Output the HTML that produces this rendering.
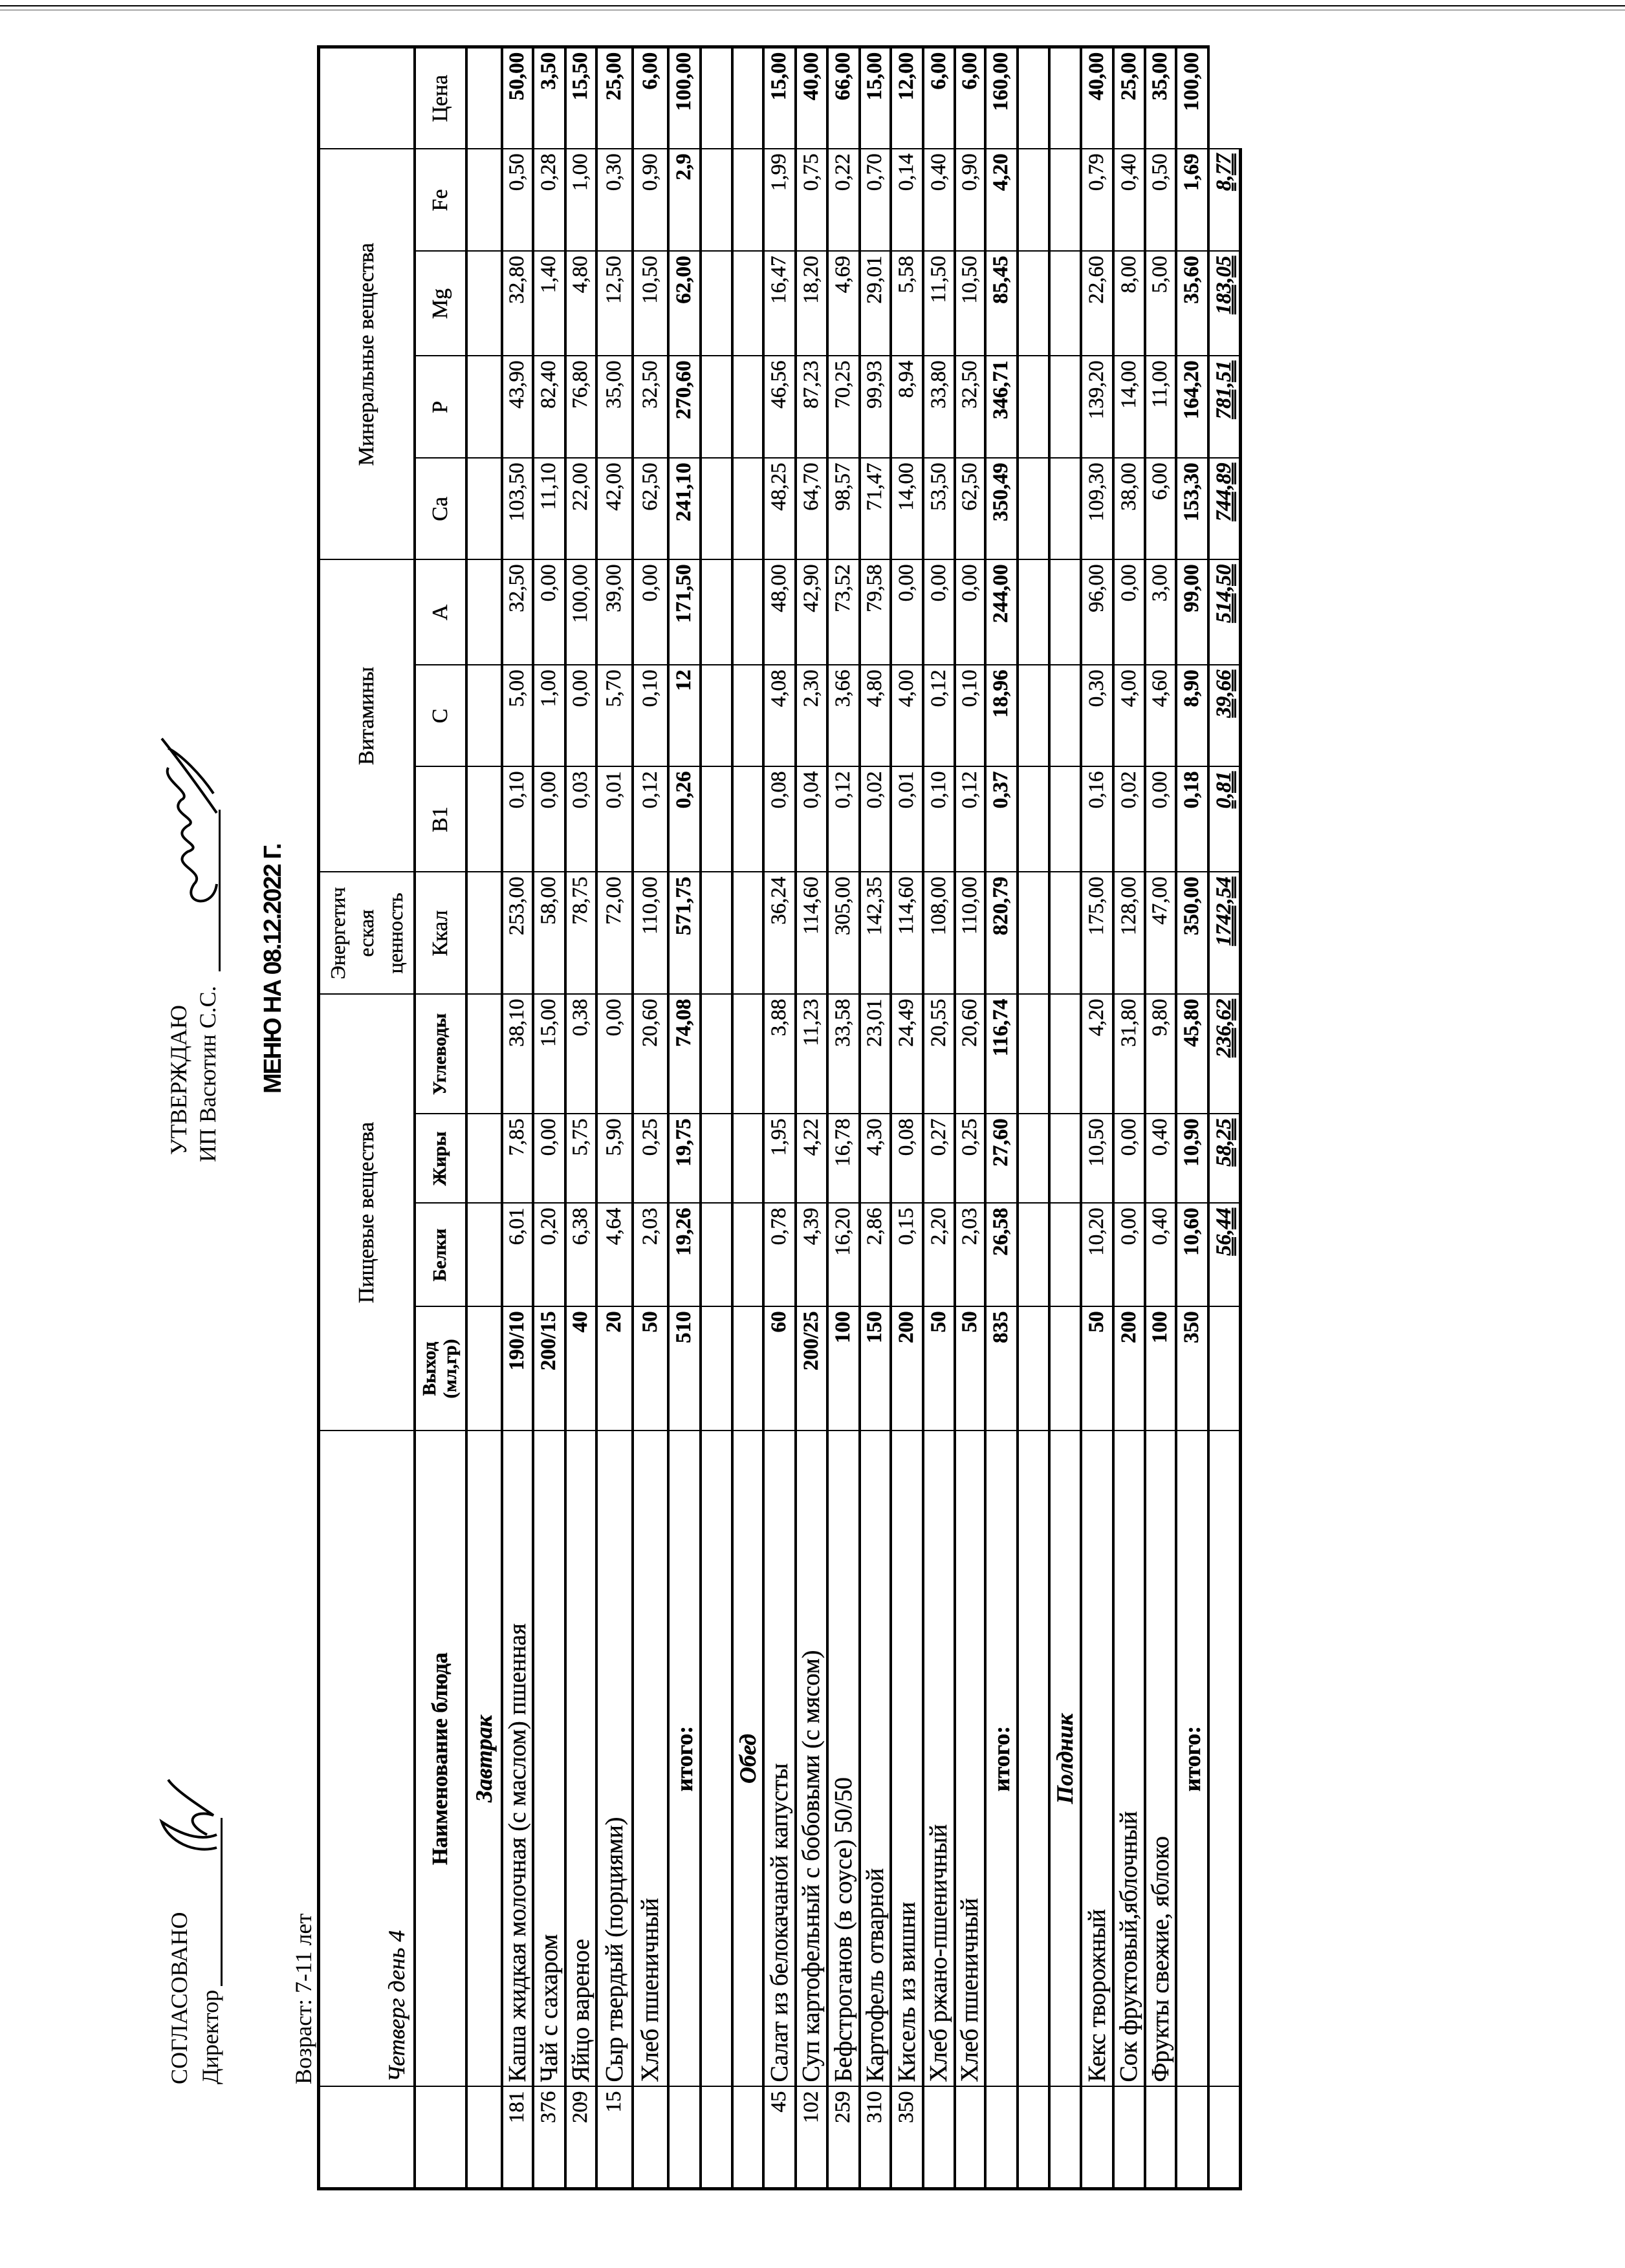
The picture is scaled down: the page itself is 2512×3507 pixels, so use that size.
<!DOCTYPE html>
<html><head><meta charset="utf-8">
<style>
html,body{margin:0;padding:0;background:#fff;}
body{width:2512px;height:3507px;position:relative;overflow:hidden;}
#land{position:absolute;left:0;top:0;width:3507px;height:2512px;transform-origin:0 0;transform:rotate(-90deg) translate(-3507px,0);font-family:"Liberation Serif",serif;color:#000;}
.t{position:absolute;white-space:nowrap;line-height:1;}
table{position:absolute;left:120px;top:490px;width:3312px;border-collapse:collapse;table-layout:fixed;border:5px solid #000;}
td{border-left:2px solid #000;border-right:2px solid #000;border-top:4px solid #000;border-bottom:4px solid #000;padding:0 6px;font-size:33px;line-height:1;text-align:right;vertical-align:middle;white-space:nowrap;overflow:hidden;-webkit-text-stroke:0.4px #000;}
td.n{text-align:left;font-size:38px;}
td.h{text-align:center;font-size:34px;}
td.c{text-align:center;}
.b{font-weight:bold;}
.sec{font-style:italic;font-weight:bold;text-align:center!important;font-size:36px;}
.tot td{font-weight:bold;}
.fin td{font-weight:bold;font-style:italic;text-decoration:underline double;}
</style></head><body>
<div style="position:absolute;left:0;top:8px;width:2512px;height:2px;background:#000;"></div>
<div style="position:absolute;left:0;top:15px;width:2512px;height:1px;background:#555;"></div>
<div id="land">
<div class="t" style="left:284px;top:259px;font-size:36px;">СОГЛАСОВАНО</div>
<div class="t" style="left:284px;top:307px;font-size:36px;">Директор</div>
<div style="position:absolute;left:436px;top:341px;width:260px;height:3px;background:#000;"></div>
<svg style="position:absolute;left:630px;top:240px;" width="140" height="110" viewBox="0 0 140 110"><path d="M20 95 C10 60 30 20 60 10 C40 40 30 70 40 95 M40 80 C60 40 80 60 70 90 C90 60 110 30 125 20" fill="none" stroke="#000" stroke-width="4"/></svg>
<div class="t" style="left:284px;top:451px;font-size:36px;">Возраст: 7-11 лет</div>
<div class="t" style="left:1721px;top:258px;font-size:36px;">УТВЕРЖДАЮ</div>
<div class="t" style="left:1710px;top:303px;font-size:36px;">ИП Васютин С.С.</div>
<div style="position:absolute;left:2005px;top:338px;width:250px;height:3px;background:#000;"></div>
<svg style="position:absolute;left:2100px;top:240px;" width="270" height="110" viewBox="0 0 270 110"><path d="M40 95 C0 90 10 40 40 60 C60 80 70 20 90 50 C100 80 110 20 130 50 C140 70 150 20 170 40 C180 60 200 10 220 20 M150 95 C200 60 240 30 265 10 M180 90 C210 70 240 40 250 20" fill="none" stroke="#000" stroke-width="4"/></svg>
<div class="t" style="left:1816px;top:403px;font-size:38px;font-weight:bold;font-family:'Liberation Sans',sans-serif;letter-spacing:-2px;">МЕНЮ НА 08.12.2022 Г.</div>

<table>
<colgroup>
<col style="width:158px"><col style="width:1014px"><col style="width:192px"><col style="width:160px"><col style="width:138px"><col style="width:185px"><col style="width:189px"><col style="width:163px"><col style="width:157px"><col style="width:163px"><col style="width:157px"><col style="width:158px"><col style="width:162px"><col style="width:158px"><col style="width:158px">
</colgroup>
<tr style="height:148px">
<td></td>
<td class="n" style="vertical-align:bottom;padding-bottom:8px;font-style:italic;font-size:36px;">Четверг день 4</td>
<td class="h" colspan="4">Пищевые вещества</td>
<td class="h" style="font-size:32px;line-height:1.4;white-space:normal;">Энергетич<br>еская<br>ценность</td>
<td class="h" colspan="3">Витамины</td>
<td class="h" colspan="4">Минеральные вещества</td>
<td></td>
</tr>
<tr style="height:80px">
<td></td>
<td class="h b">Наименование блюда</td>
<td class="h b" style="font-size:29px;line-height:1.1;">Выход<br>(мл,гр)</td>
<td class="h b" style="font-size:29px;">Белки</td>
<td class="h b" style="font-size:29px;">Жиры</td>
<td class="h b" style="font-size:29px;">Углеводы</td>
<td class="h">Ккал</td>
<td class="h">B1</td>
<td class="h">C</td>
<td class="h">A</td>
<td class="h">Ca</td>
<td class="h">P</td>
<td class="h">Mg</td>
<td class="h">Fe</td>
<td class="h">Цена</td>
</tr>
<tr style="height:55px"><td></td><td class="sec">Завтрак</td><td></td><td></td><td></td><td></td><td></td><td></td><td></td><td></td><td></td><td></td><td></td><td></td><td></td></tr>
<tr style="height:48px"><td>181</td><td class="n">Каша жидкая молочная (с маслом) пшенная</td><td class="b">190/10</td><td>6,01</td><td>7,85</td><td>38,10</td><td>253,00</td><td>0,10</td><td>5,00</td><td>32,50</td><td>103,50</td><td>43,90</td><td>32,80</td><td>0,50</td><td class="b">50,00</td></tr>
<tr style="height:50px"><td>376</td><td class="n">Чай с сахаром</td><td class="b">200/15</td><td>0,20</td><td>0,00</td><td>15,00</td><td>58,00</td><td>0,00</td><td>1,00</td><td>0,00</td><td>11,10</td><td>82,40</td><td>1,40</td><td>0,28</td><td class="b">3,50</td></tr>
<tr style="height:48px"><td>209</td><td class="n">Яйцо вареное</td><td class="b">40</td><td>6,38</td><td>5,75</td><td>0,38</td><td>78,75</td><td>0,03</td><td>0,00</td><td>100,00</td><td>22,00</td><td>76,80</td><td>4,80</td><td>1,00</td><td class="b">15,50</td></tr>
<tr style="height:56px"><td>15</td><td class="n">Сыр твердый (порциями)</td><td class="b">20</td><td>4,64</td><td>5,90</td><td>0,00</td><td>72,00</td><td>0,01</td><td>5,70</td><td>39,00</td><td>42,00</td><td>35,00</td><td>12,50</td><td>0,30</td><td class="b">25,00</td></tr>
<tr style="height:55px"><td></td><td class="n">Хлеб пшеничный</td><td class="b">50</td><td>2,03</td><td>0,25</td><td>20,60</td><td>110,00</td><td>0,12</td><td>0,10</td><td>0,00</td><td>62,50</td><td>32,50</td><td>10,50</td><td>0,90</td><td class="b">6,00</td></tr>
<tr class="tot" style="height:50px"><td></td><td class="c" style="font-size:36px;">итого:</td><td>510</td><td>19,26</td><td>19,75</td><td>74,08</td><td>571,75</td><td>0,26</td><td>12</td><td>171,50</td><td>241,10</td><td>270,60</td><td>62,00</td><td>2,9</td><td>100,00</td></tr>
<tr style="height:49px"><td></td><td></td><td></td><td></td><td></td><td></td><td></td><td></td><td></td><td></td><td></td><td></td><td></td><td></td><td></td></tr>
<tr style="height:48px"><td></td><td class="sec">Обед</td><td></td><td></td><td></td><td></td><td></td><td></td><td></td><td></td><td></td><td></td><td></td><td></td><td></td></tr>
<tr style="height:50px"><td>45</td><td class="n">Салат из белокачаной капусты</td><td class="b">60</td><td>0,78</td><td>1,95</td><td>3,88</td><td>36,24</td><td>0,08</td><td>4,08</td><td>48,00</td><td>48,25</td><td>46,56</td><td>16,47</td><td>1,99</td><td class="b">15,00</td></tr>
<tr style="height:49px"><td>102</td><td class="n">Суп картофельный с бобовыми (с мясом)</td><td class="b">200/25</td><td>4,39</td><td>4,22</td><td>11,23</td><td>114,60</td><td>0,04</td><td>2,30</td><td>42,90</td><td>64,70</td><td>87,23</td><td>18,20</td><td>0,75</td><td class="b">40,00</td></tr>
<tr style="height:50px"><td>259</td><td class="n">Бефстроганов (в соусе) 50/50</td><td class="b">100</td><td>16,20</td><td>16,78</td><td>33,58</td><td>305,00</td><td>0,12</td><td>3,66</td><td>73,52</td><td>98,57</td><td>70,25</td><td>4,69</td><td>0,22</td><td class="b">66,00</td></tr>
<tr style="height:48px"><td>310</td><td class="n">Картофель отварной</td><td class="b">150</td><td>2,86</td><td>4,30</td><td>23,01</td><td>142,35</td><td>0,02</td><td>4,80</td><td>79,58</td><td>71,47</td><td>99,93</td><td>29,01</td><td>0,70</td><td class="b">15,00</td></tr>
<tr style="height:50px"><td>350</td><td class="n">Кисель из вишни</td><td class="b">200</td><td>0,15</td><td>0,08</td><td>24,49</td><td>114,60</td><td>0,01</td><td>4,00</td><td>0,00</td><td>14,00</td><td>8,94</td><td>5,58</td><td>0,14</td><td class="b">12,00</td></tr>
<tr style="height:49px"><td></td><td class="n">Хлеб ржано-пшеничный</td><td class="b">50</td><td>2,20</td><td>0,27</td><td>20,55</td><td>108,00</td><td>0,10</td><td>0,12</td><td>0,00</td><td>53,50</td><td>33,80</td><td>11,50</td><td>0,40</td><td class="b">6,00</td></tr>
<tr style="height:47px"><td></td><td class="n">Хлеб пшеничный</td><td class="b">50</td><td>2,03</td><td>0,25</td><td>20,60</td><td>110,00</td><td>0,12</td><td>0,10</td><td>0,00</td><td>62,50</td><td>32,50</td><td>10,50</td><td>0,90</td><td class="b">6,00</td></tr>
<tr class="tot" style="height:50px"><td></td><td class="c" style="font-size:36px;">итого:</td><td>835</td><td>26,58</td><td>27,60</td><td>116,74</td><td>820,79</td><td>0,37</td><td>18,96</td><td>244,00</td><td>350,49</td><td>346,71</td><td>85,45</td><td>4,20</td><td>160,00</td></tr>
<tr style="height:49px"><td></td><td></td><td></td><td></td><td></td><td></td><td></td><td></td><td></td><td></td><td></td><td></td><td></td><td></td><td></td></tr>
<tr style="height:49px"><td></td><td class="sec">Полдник</td><td></td><td></td><td></td><td></td><td></td><td></td><td></td><td></td><td></td><td></td><td></td><td></td><td></td></tr>
<tr style="height:50px"><td></td><td class="n">Кекс творожный</td><td class="b">50</td><td>10,20</td><td>10,50</td><td>4,20</td><td>175,00</td><td>0,16</td><td>0,30</td><td>96,00</td><td>109,30</td><td>139,20</td><td>22,60</td><td>0,79</td><td class="b">40,00</td></tr>
<tr style="height:49px"><td></td><td class="n">Сок фруктовый,яблочный</td><td class="b">200</td><td>0,00</td><td>0,00</td><td>31,80</td><td>128,00</td><td>0,02</td><td>4,00</td><td>0,00</td><td>38,00</td><td>14,00</td><td>8,00</td><td>0,40</td><td class="b">25,00</td></tr>
<tr style="height:48px"><td></td><td class="n">Фрукты свежие, яблоко</td><td class="b">100</td><td>0,40</td><td>0,40</td><td>9,80</td><td>47,00</td><td>0,00</td><td>4,60</td><td>3,00</td><td>6,00</td><td>11,00</td><td>5,00</td><td>0,50</td><td class="b">35,00</td></tr>
<tr class="tot" style="height:50px"><td></td><td class="c" style="font-size:36px;">итого:</td><td>350</td><td>10,60</td><td>10,90</td><td>45,80</td><td>350,00</td><td>0,18</td><td>8,90</td><td>99,00</td><td>153,30</td><td>164,20</td><td>35,60</td><td>1,69</td><td>100,00</td></tr>
<tr class="fin" style="height:50px"><td></td><td></td><td></td><td>56,44</td><td>58,25</td><td>236,62</td><td>1742,54</td><td>0,81</td><td>39,66</td><td>514,50</td><td>744,89</td><td>781,51</td><td>183,05</td><td>8,77</td><td style="border-right:hidden;border-bottom:hidden;"></td></tr>
</table>
</div>
</body></html>
